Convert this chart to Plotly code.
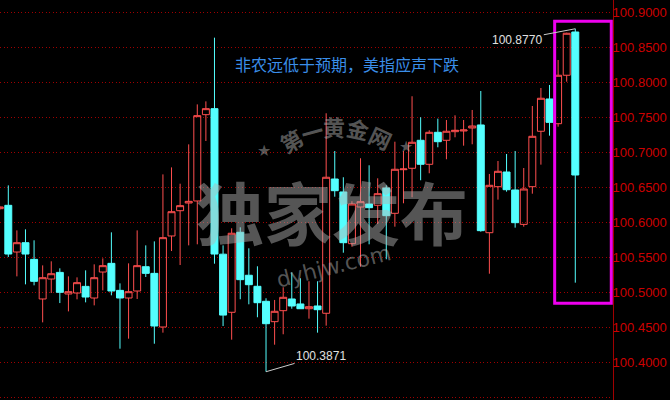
import plotly.graph_objects as go

# ---------------- data ----------------
opens = [100.6200, 100.6248, 100.5581, 100.5714, 100.5476, 100.4910, 100.5195, 100.5290, 100.4981, 100.4995,
         100.5090, 100.4924, 100.5295, 100.5419, 100.5033, 100.4924, 100.5024, 100.5371, 100.5276, 100.4510,
         100.5810, 100.6171, 100.6281, 100.6310, 100.7543, 100.7629, 100.5550, 100.4720, 100.5863, 100.5249,
         100.5091, 100.4877, 100.4586, 100.4743, 100.4910, 100.4839, 100.4771, 100.4810, 100.4706, 100.6624,
         100.6439, 100.5700, 100.6224, 100.6267, 100.6249, 100.6496, 100.6134, 100.6757, 100.6777, 100.7177,
         100.6834, 100.7291, 100.7177, 100.7300, 100.7310, 100.7353, 100.7396, 100.5857, 100.6514, 100.6724,
         100.6467, 100.5976, 100.6514, 100.7306, 100.7767, 100.7414, 100.8106, 100.8724]
highs = [100.6240, 100.6533, 100.5890, 100.5905, 100.5748, 100.5390, 100.5448, 100.5348, 100.5233, 100.5219,
         100.5319, 100.5405, 100.5490, 100.5862, 100.5133, 100.5419, 100.5890, 100.5676, 100.5733, 100.6690,
         100.6790, 100.6557, 100.7119, 100.7690, 100.7733, 100.8643, 100.5676, 100.5920, 100.5934, 100.5634,
         100.5377, 100.4920, 100.4896, 100.5077, 100.5291, 100.5206, 100.5163, 100.5163, 100.7563, 100.7024,
         100.6649, 100.6306, 100.6920, 100.6820, 100.6634, 100.6534, 100.7157, 100.7024, 100.7806, 100.7506,
         100.7320, 100.7486, 100.7467, 100.7534, 100.7467, 100.7610, 100.7881, 100.6696, 100.6881, 100.6981,
         100.7024, 100.6781, 100.7667, 100.7924, 100.7967, 100.8324, 100.8714, 100.8770]
lows = [100.6180, 100.5510, 100.5233, 100.5119, 100.5105, 100.4576, 100.4995, 100.4852, 100.4733, 100.4905,
        100.4862, 100.4819, 100.5033, 100.4962, 100.4200, 100.4343, 100.4910, 100.5224, 100.4271, 100.4429,
        100.5595, 100.5395, 100.5676, 100.5691, 100.7167, 100.5414, 100.4524, 100.4329, 100.4906, 100.4834,
        100.4649, 100.3871, 100.4257, 100.4406, 100.4771, 100.4771, 100.4629, 100.4429, 100.4529, 100.6371,
        100.5571, 100.5657, 100.5371, 100.5691, 100.5981, 100.5477, 100.5943, 100.6277, 100.6363, 100.6606,
        100.6706, 100.7077, 100.6906, 100.7220, 100.7100, 100.7120, 100.5871, 100.5271, 100.6329, 100.6443,
        100.5929, 100.5943, 100.6414, 100.6829, 100.7243, 100.7371, 100.8014, 100.5143]
closes = [100.6225, 100.5552, 100.5714, 100.5552, 100.5162, 100.5214, 100.5271, 100.5005, 100.5014, 100.5143,
          100.4938, 100.5214, 100.5386, 100.5024, 100.4924, 100.5014, 100.5386, 100.5276, 100.4524, 100.5786,
          100.6157, 100.6243, 100.6305, 100.7529, 100.7629, 100.5552, 100.4680, 100.5849, 100.5186, 100.5114,
          100.4857, 100.4557, 100.4734, 100.4934, 100.4810, 100.4771, 100.4800, 100.4757, 100.6649, 100.6457,
          100.5714, 100.6267, 100.6300, 100.6214, 100.6414, 100.6100, 100.6763, 100.6767, 100.7149, 100.6834,
          100.7291, 100.7157, 100.7306, 100.7320, 100.7324, 100.7381, 100.5886, 100.6534, 100.6734, 100.6471,
          100.6000, 100.6481, 100.7234, 100.7777, 100.7433, 100.8106, 100.8706, 100.6681]
bars = list(range(len(opens)))

tick_vals = [100.35, 100.40, 100.45, 100.50, 100.55, 100.60, 100.65, 100.70, 100.75, 100.80, 100.85, 100.90]
tick_text = ["%.4f" % v for v in tick_vals]

headline = "非农远低于预期，美指应声下跌"
watermark_main = "独家发布"
watermark_arc = ["第", "一", "黄", "金", "网"]
watermark_url = "dyhjw.com"

# ---------------- figure ----------------
UP = "#ff4f4f"
DOWN = "#54ffff"

fig = go.Figure()
fig.add_trace(go.Candlestick(
    x=bars, open=opens, high=highs, low=lows, close=closes,
    increasing=dict(line=dict(color=UP, width=1), fillcolor="rgba(0,0,0,0)"),
    decreasing=dict(line=dict(color=DOWN, width=1), fillcolor=DOWN),
    whiskerwidth=0, showlegend=False, hoverinfo="skip",
))

annotations = []
annotations.append(dict(xref="paper", yref="paper", x=233 / 613, y=1 - 64 / 400, xanchor="left",
                        yanchor="middle", text=headline, showarrow=False,
                        font=dict(family="Noto Sans CJK SC", size=16, color="#3a8ee8")))

wm_color = "rgba(181,181,181,0.47)"
annotations.append(dict(xref="paper", yref="paper", x=332 / 613, y=1 - 210 / 400, xanchor="center",
                        yanchor="middle", text=watermark_main, showarrow=False, borderpad=0,
                        font=dict(family="Noto Sans CJK SC", size=68, color=wm_color, weight="bold")))
arc_pos = [(291, 140, -30), (312, 131, -15), (334, 126, 0), (358, 128, 12), (381, 137, 25)]
for ch, (px, py, rot) in zip(watermark_arc, arc_pos):
    annotations.append(dict(xref="paper", yref="paper", x=px / 613, y=1 - py / 400, xanchor="center",
                            yanchor="middle", text=ch, showarrow=False, textangle=rot, borderpad=0,
                            font=dict(family="Noto Sans CJK SC", size=22, color=wm_color, weight="bold")))
for px, py in [(264, 151), (406, 147)]:
    annotations.append(dict(xref="paper", yref="paper", x=px / 613, y=1 - py / 400, xanchor="center",
                            yanchor="middle", text="★", showarrow=False, borderpad=0,
                            font=dict(family="DejaVu Sans", size=16, color=wm_color)))
annotations.append(dict(xref="paper", yref="paper", x=333 / 613, y=1 - 266 / 400, xanchor="center",
                        yanchor="middle", text=watermark_url, showarrow=False, textangle=-14,
                        font=dict(family="DejaVu Sans", size=22, color=wm_color)))

# high / low labels
i_hi = max(bars, key=lambda i: highs[i])
i_lo = min(bars, key=lambda i: lows[i])
annotations.append(dict(x=bars[i_hi], y=highs[i_hi], text="%.4f" % highs[i_hi], showarrow=True,
                        arrowhead=0, arrowwidth=1, arrowcolor="#cccccc", ax=-58, ay=11,
                        font=dict(family="Arial", size=12, color="#e0e0e0")))
annotations.append(dict(x=bars[i_lo], y=lows[i_lo], text="%.4f" % lows[i_lo], showarrow=True,
                        arrowhead=0, arrowwidth=1, arrowcolor="#cccccc", ax=55, ay=-16,
                        font=dict(family="Arial", size=12, color="#e0e0e0")))

fig.add_shape(type="rect", xref="x", yref="y", x0=64.6, x1=71.19, y0=100.4849, y1=100.8877,
              line=dict(color="#ee00ee", width=3), fillcolor="rgba(0,0,0,0)")

fig.update_layout(
    width=670, height=400,
    margin=dict(l=0, r=57, t=0, b=0),
    paper_bgcolor="#000000", plot_bgcolor="#000000",
    boxgap=0.19, boxgroupgap=0,
    annotations=annotations,
    xaxis=dict(range=[0.034, 71.39], visible=False, showgrid=False, rangeslider=dict(visible=False)),
    yaxis=dict(range=[100.3467, 100.9181], side="right", tickvals=tick_vals, ticktext=tick_text,
               tickfont=dict(family="Arial", size=13, color="#cc0000"), ticks="",
               ticklabelstandoff=-4,
               showgrid=True, gridcolor="#a00000", griddash="1px,2.5px", gridwidth=1,
               showline=True, linecolor="#a00000", linewidth=1, zeroline=False),
)

fig.write_html("out.html", config={"displayModeBar": False},
               post_script="document.body.style.margin='0';document.body.style.background='#000';")
